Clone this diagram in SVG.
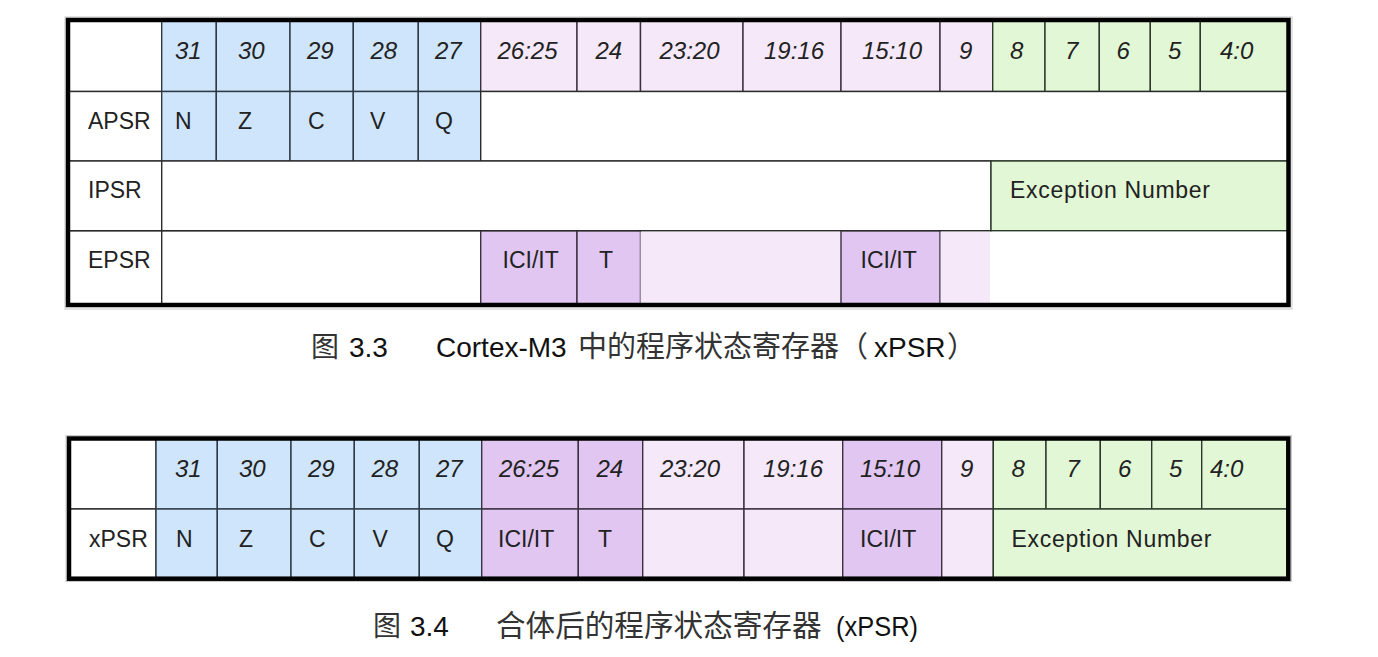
<svg xmlns="http://www.w3.org/2000/svg" width="1378" height="657" viewBox="0 0 1378 657">
<style>
  .bl { fill: #cfe5fb; stroke: #2f3a46; stroke-width: 1.4; }
  .lp { fill: #f4e8f9; stroke: #3a3040; stroke-width: 1.4; }
  .dp { fill: #e0c6f1; stroke: #3a3040; stroke-width: 1.4; }
  .gr { fill: #e2f7d6; stroke: #2b3a2b; stroke-width: 1.4; }
  .wh { fill: #ffffff; stroke: #2b2b2b; stroke-width: 1.4; }
  .lpn { fill: #f4e8f9; stroke: none; }
  .whn { fill: #ffffff; stroke: none; }
  .frame { fill: none; stroke: #000; stroke-width: 4.5; }
  .shadow { fill: none; stroke: #c8c8c8; stroke-width: 1; }
  text { font-family: "Liberation Sans", Arial, sans-serif; fill: #222; }
  .hd { font-size: 24px; font-style: italic; }
  .tx { font-size: 23px; }
  .cap { font-size: 28px; fill: #111; }
  .cj { font-family: "Noto Sans CJK SC", "Noto Sans CJK TC", sans-serif; font-size: 29px; fill: #333; }
</style>

<!-- ===== Table 1 ===== -->
<g id="table-1">
  <rect class="shadow" x="65" y="17" width="1227" height="292"/>
  <g id="t1-header">
    <rect class="wh" x="68" y="20" width="93.7" height="71.5"/>
    <rect class="bl" x="161.7" y="20" width="54.6" height="71.5"/>
    <rect class="bl" x="216.3" y="20" width="73.7" height="71.5"/>
    <rect class="bl" x="290" y="20" width="63.3" height="71.5"/>
    <rect class="bl" x="353.3" y="20" width="65" height="71.5"/>
    <rect class="bl" x="418.3" y="20" width="62.4" height="71.5"/>
    <rect class="lp" x="480.7" y="20" width="96.3" height="71.5"/>
    <rect class="lp" x="577" y="20" width="63.5" height="71.5"/>
    <rect class="lp" x="640.5" y="20" width="102.5" height="71.5"/>
    <rect class="lp" x="743" y="20" width="98" height="71.5"/>
    <rect class="lp" x="841" y="20" width="99" height="71.5"/>
    <rect class="lp" x="940" y="20" width="52.7" height="71.5"/>
    <rect class="gr" x="992.7" y="20" width="52.3" height="71.5"/>
    <rect class="gr" x="1045" y="20" width="54.3" height="71.5"/>
    <rect class="gr" x="1099.3" y="20" width="51" height="71.5"/>
    <rect class="gr" x="1150.3" y="20" width="50" height="71.5"/>
    <rect class="gr" x="1200.3" y="20" width="88.2" height="71.5"/>
    <text class="hd" x="175" y="58.5">31</text>
    <text class="hd" x="238" y="58.5">30</text>
    <text class="hd" x="307" y="58.5">29</text>
    <text class="hd" x="370.5" y="58.5">28</text>
    <text class="hd" x="435" y="58.5">27</text>
    <text class="hd" x="497.5" y="58.5">26:25</text>
    <text class="hd" x="595.5" y="58.5">24</text>
    <text class="hd" x="659.5" y="58.5">23:20</text>
    <text class="hd" x="764" y="58.5">19:16</text>
    <text class="hd" x="862" y="58.5">15:10</text>
    <text class="hd" x="959" y="58.5">9</text>
    <text class="hd" x="1010" y="58.5">8</text>
    <text class="hd" x="1065" y="58.5">7</text>
    <text class="hd" x="1116.5" y="58.5">6</text>
    <text class="hd" x="1168" y="58.5">5</text>
    <text class="hd" x="1220" y="58.5">4:0</text>
  </g>
  <g id="t1-apsr">
    <rect class="wh" x="68" y="91.5" width="93.7" height="69.5"/>
    <rect class="bl" x="161.7" y="91.5" width="54.6" height="69.5"/>
    <rect class="bl" x="216.3" y="91.5" width="73.7" height="69.5"/>
    <rect class="bl" x="290" y="91.5" width="63.3" height="69.5"/>
    <rect class="bl" x="353.3" y="91.5" width="65" height="69.5"/>
    <rect class="bl" x="418.3" y="91.5" width="62.4" height="69.5"/>
    <rect class="wh" x="480.7" y="91.5" width="807.8" height="69.5"/>
    <text class="tx" x="88" y="129">APSR</text>
    <text class="tx" x="175" y="129">N</text>
    <text class="tx" x="238" y="129">Z</text>
    <text class="tx" x="308" y="129">C</text>
    <text class="tx" x="370" y="129">V</text>
    <text class="tx" x="435" y="129">Q</text>
  </g>
  <g id="t1-epsr">
    <rect class="wh" x="68" y="230.7" width="93.7" height="74.3"/>
    <rect class="wh" x="161.7" y="230.7" width="319" height="74.3"/>
    <rect class="whn" x="990" y="230.7" width="298.5" height="74.3"/>
    <rect class="dp" x="480.7" y="230.7" width="96.3" height="74.3"/>
    <rect class="dp" x="577" y="230.7" width="63.5" height="74.3"/>
    <rect class="lpn" x="640.5" y="231.4" width="200.5" height="73"/>
    <rect class="dp" x="841" y="230.7" width="99" height="74.3"/>
    <rect class="lpn" x="940.7" y="231.4" width="49.3" height="73"/>
    <text class="tx" x="88" y="268">EPSR</text>
    <text class="tx" x="502.5" y="268">ICI/IT</text>
    <text class="tx" x="599" y="268">T</text>
    <text class="tx" x="860.5" y="268">ICI/IT</text>
  </g>
  <g id="t1-ipsr">
    <rect class="wh" x="68" y="161" width="93.7" height="69.7"/>
    <rect class="wh" x="161.7" y="161" width="829.3" height="69.7"/>
    <rect class="gr" x="991" y="161" width="297.5" height="69.7"/>
    <text class="tx" x="88" y="198">IPSR</text>
    <text class="tx" x="1010" y="198" textLength="200" lengthAdjust="spacing">Exception Number</text>
  </g>
  <rect class="frame" x="68" y="20" width="1220.5" height="285"/>
</g>

<!-- ===== Table 2 ===== -->
<g id="table-2">
  <rect class="shadow" x="66" y="435.5" width="1225.5" height="146"/>
  <g id="t2-header">
    <rect class="wh" x="69" y="438.5" width="87" height="70.5"/>
    <rect class="bl" x="156" y="438.5" width="61.3" height="70.5"/>
    <rect class="bl" x="217.3" y="438.5" width="73.7" height="70.5"/>
    <rect class="bl" x="291" y="438.5" width="63.3" height="70.5"/>
    <rect class="bl" x="354.3" y="438.5" width="65" height="70.5"/>
    <rect class="bl" x="419.3" y="438.5" width="62.4" height="70.5"/>
    <rect class="dp" x="481.7" y="438.5" width="96.6" height="70.5"/>
    <rect class="dp" x="578.3" y="438.5" width="64.4" height="70.5"/>
    <rect class="lp" x="642.7" y="438.5" width="101.3" height="70.5"/>
    <rect class="lp" x="744" y="438.5" width="98.7" height="70.5"/>
    <rect class="dp" x="842.7" y="438.5" width="99" height="70.5"/>
    <rect class="lp" x="941.7" y="438.5" width="51.6" height="70.5"/>
    <rect class="gr" x="993.3" y="438.5" width="52.7" height="70.5"/>
    <rect class="gr" x="1046" y="438.5" width="54.3" height="70.5"/>
    <rect class="gr" x="1100.3" y="438.5" width="51.4" height="70.5"/>
    <rect class="gr" x="1151.7" y="438.5" width="50" height="70.5"/>
    <rect class="gr" x="1201.7" y="438.5" width="86.6" height="70.5"/>
    <text class="hd" x="175" y="477">31</text>
    <text class="hd" x="239" y="477">30</text>
    <text class="hd" x="308" y="477">29</text>
    <text class="hd" x="371.5" y="477">28</text>
    <text class="hd" x="436" y="477">27</text>
    <text class="hd" x="499" y="477">26:25</text>
    <text class="hd" x="596.5" y="477">24</text>
    <text class="hd" x="660" y="477">23:20</text>
    <text class="hd" x="763" y="477">19:16</text>
    <text class="hd" x="860" y="477">15:10</text>
    <text class="hd" x="960" y="477">9</text>
    <text class="hd" x="1011.5" y="477">8</text>
    <text class="hd" x="1066.5" y="477">7</text>
    <text class="hd" x="1118" y="477">6</text>
    <text class="hd" x="1169" y="477">5</text>
    <text class="hd" x="1210" y="477">4:0</text>
  </g>
  <g id="t2-xpsr">
    <rect class="wh" x="69" y="509" width="87" height="69.7"/>
    <rect class="bl" x="156" y="509" width="61.3" height="69.7"/>
    <rect class="bl" x="217.3" y="509" width="73.7" height="69.7"/>
    <rect class="bl" x="291" y="509" width="63.3" height="69.7"/>
    <rect class="bl" x="354.3" y="509" width="65" height="69.7"/>
    <rect class="bl" x="419.3" y="509" width="62.4" height="69.7"/>
    <rect class="dp" x="481.7" y="509" width="96.6" height="69.7"/>
    <rect class="dp" x="578.3" y="509" width="64.4" height="69.7"/>
    <rect class="lp" x="642.7" y="509" width="101.3" height="69.7"/>
    <rect class="lp" x="744" y="509" width="98.7" height="69.7"/>
    <rect class="dp" x="842.7" y="509" width="99" height="69.7"/>
    <rect class="lp" x="941.7" y="509" width="51.6" height="69.7"/>
    <rect class="gr" x="993.3" y="509" width="295" height="69.7"/>
    <text class="tx" x="89" y="547">xPSR</text>
    <text class="tx" x="176" y="547">N</text>
    <text class="tx" x="239" y="547">Z</text>
    <text class="tx" x="309" y="547">C</text>
    <text class="tx" x="372.5" y="547">V</text>
    <text class="tx" x="436" y="547">Q</text>
    <text class="tx" x="498" y="547">ICI/IT</text>
    <text class="tx" x="598" y="547">T</text>
    <text class="tx" x="860" y="547">ICI/IT</text>
    <text class="tx" x="1011.5" y="547" textLength="200" lengthAdjust="spacing">Exception Number</text>
  </g>
  <rect class="frame" x="69" y="438.5" width="1219.3" height="140.2"/>
</g>

<g id="connectors"></g>

<!-- ===== Captions ===== -->
<g id="caption-1">
  <text class="cj" x="311" y="357" style="font-size:28px">图</text>
  <text class="cap" x="349" y="357">3.3</text>
  <text class="cap" x="436" y="357">Cortex-M3</text>
  <text class="cj" x="578" y="357">中的程序状态寄存器（</text>
  <text class="cap" x="874" y="357">xPSR</text>
  <text class="cj" x="947" y="357">）</text>
</g>
<g id="caption-2">
  <text class="cj" x="373" y="636" style="font-size:28px">图</text>
  <text class="cap" x="410" y="636">3.4</text>
  <text class="cj" x="496" y="636" style="font-size:29.6px">合体后的程序状态寄存器</text>
  <text class="cap" x="836" y="636" style="font-size:27px" textLength="82" lengthAdjust="spacingAndGlyphs">(xPSR)</text>
</g>
</svg>
